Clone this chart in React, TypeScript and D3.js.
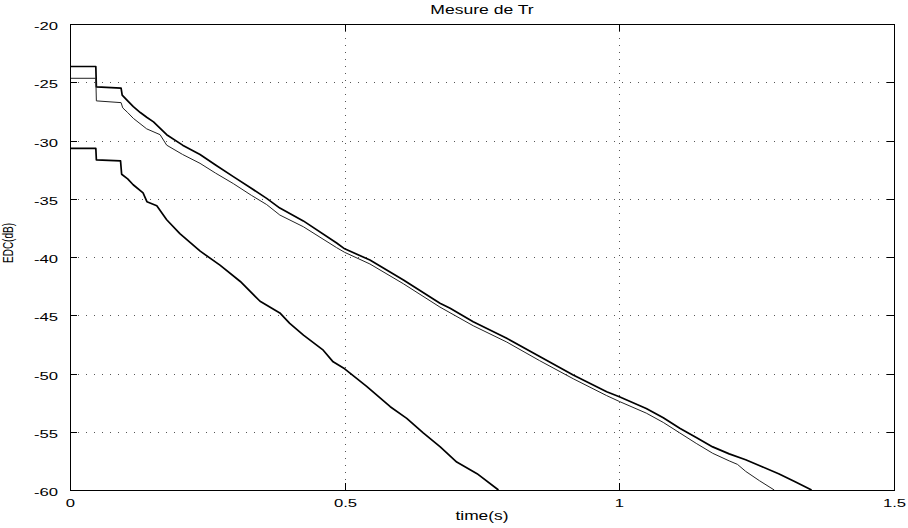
import React from "react";
import { scaleLinear, line, range } from "d3";

const width = 908;
const height = 528;
const margin = { top: 24, right: 14, bottom: 38, left: 70 };

// text in the reference is stretched sideways
const stretch = 1.45;

// Data (time in s, EDC in dB)
const timeA = [0, 0.047, 0.048, 0.093, 0.095, 0.105, 0.1153, 0.128, 0.1396, 0.152, 0.176, 0.205, 0.2367, 0.265, 0.2973, 0.33, 0.358, 0.382, 0.4247, 0.4854, 0.5, 0.546, 0.607, 0.6735, 0.692, 0.734, 0.795, 0.855, 0.916, 0.977, 1.0, 1.049, 1.08, 1.11, 1.14, 1.17, 1.2, 1.23, 1.26, 1.29, 1.32, 1.35];
const edcA = [-23.65, -23.65, -25.4, -25.5, -26.1, -26.6, -27.1, -27.6, -28.0, -28.4, -29.5, -30.4, -31.2, -32.1, -33.1, -34.1, -34.97, -35.8, -36.9, -38.8, -39.3, -40.26, -41.97, -43.97, -44.4, -45.55, -46.98, -48.55, -50.13, -51.56, -52.0, -53.0, -53.8, -54.7, -55.5, -56.3, -56.9, -57.4, -58.0, -58.6, -59.3, -60];

const timeB = [0, 0.047, 0.048, 0.093, 0.096, 0.105, 0.1153, 0.1396, 0.164, 0.176, 0.205, 0.2367, 0.265, 0.2973, 0.33, 0.358, 0.382, 0.4247, 0.4854, 0.5, 0.546, 0.607, 0.6735, 0.734, 0.795, 0.855, 0.916, 0.977, 1.0, 1.049, 1.08, 1.11, 1.14, 1.17, 1.2, 1.215, 1.23, 1.255, 1.282];
const edcB = [-24.66, -24.66, -26.6, -26.75, -27.2, -27.6, -28.1, -29.0, -29.5, -30.4, -31.2, -31.96, -32.8, -33.7, -34.7, -35.5, -36.4, -37.4, -39.2, -39.6, -40.6, -42.3, -44.3, -45.9, -47.3, -48.9, -50.45, -51.9, -52.4, -53.4, -54.2, -55.1, -56.0, -56.85, -57.5, -57.8, -58.4, -59.2, -60];

const timeC = [0, 0.047, 0.048, 0.092, 0.094, 0.105, 0.115, 0.133, 0.14, 0.158, 0.176, 0.2, 0.237, 0.273, 0.31, 0.346, 0.382, 0.4, 0.425, 0.461, 0.479, 0.5, 0.54, 0.583, 0.613, 0.643, 0.674, 0.704, 0.741, 0.78];
const edcC = [-30.67, -30.67, -31.67, -31.75, -32.9, -33.3, -33.8, -34.5, -35.25, -35.6, -36.8, -38.0, -39.5, -40.7, -42.1, -43.8, -44.8, -45.7, -46.7, -48.0, -49.0, -49.6, -51.1, -52.85, -53.85, -55.1, -56.3, -57.6, -58.6, -60];

const xTicks = [0, 0.5, 1, 1.5];
const xTickLabels = ["0", "0.5", "1", "1.5"];
const yTicks = [-20, -25, -30, -35, -40, -45, -50, -55, -60];

const title = "Mesure de Tr";
const xLabel = "time(s)";
const yLabel = "EDC(dB)";

const series = [
  { t: timeA, v: edcA, color: "#000", w: 1.7 },
  { t: timeB, v: edcB, color: "#222", w: 1 },
  { t: timeC, v: edcC, color: "#000", w: 1.7 },
];

const font = "'Liberation Sans', Arial, Helvetica, sans-serif";

const App = () => {
  const innerW = width - margin.left - margin.right;
  const innerH = height - margin.top - margin.bottom;

  const x = scaleLinear().domain([0, 1.5]).range([0, innerW]);
  const y = scaleLinear().domain([-60, -20]).range([innerH, 0]);

  const tickLen = 7;

  return (
    <div style={{ position: "absolute", left: 0, top: 0 }}>
      <svg width={width} height={height} style={{ display: "block", background: "#fff" }}>
        <g transform={`translate(${margin.left},${margin.top})`}>
          {/* grid */}
          {yTicks
            .filter((d) => d !== -20 && d !== -60)
            .map((d) => (
              <line
                key={"gy" + d}
                x1={0}
                x2={innerW}
                y1={Math.round(y(d)) + 0.5}
                y2={Math.round(y(d)) + 0.5}
                stroke="#555"
                strokeDasharray="1,7"
              />
            ))}
          {xTicks
            .filter((d) => d !== 0 && d !== 1.5)
            .map((d) => (
              <line
                key={"gx" + d}
                x1={Math.round(x(d)) + 0.5}
                x2={Math.round(x(d)) + 0.5}
                y1={0}
                y2={innerH}
                stroke="#555"
                strokeDasharray="1,6"
              />
            ))}

          {/* curves */}
          {series.map((s, i) => {
            const gen = line<number>()
              .x((k) => x(s.t[k]))
              .y((k) => y(s.v[k]));
            return (
              <path
                key={"s" + i}
                d={gen(range(s.t.length)) || ""}
                fill="none"
                stroke={s.color}
                strokeWidth={s.w}
                strokeLinejoin="round"
              />
            );
          })}

          {/* box */}
          <rect x={0.5} y={0.5} width={innerW} height={innerH} fill="none" stroke="#000" strokeWidth={1} />

          {/* ticks, inward on all four sides */}
          {yTicks.map((d) => {
            const yy = Math.round(y(d)) + 0.5;
            return (
              <g key={"ty" + d}>
                <line x1={0} x2={tickLen} y1={yy} y2={yy} stroke="#000" />
                <line x1={innerW - tickLen} x2={innerW} y1={yy} y2={yy} stroke="#000" />
                <text
                  transform={`translate(${-12},${yy + 5.5}) scale(${stretch},1)`}
                  textAnchor="end"
                  fontFamily={font}
                  fontSize={11.5}
                  fill="#000"
                >
                  {d}
                </text>
              </g>
            );
          })}
          {xTicks.map((d, i) => {
            const xx = Math.round(x(d)) + 0.5;
            return (
              <g key={"tx" + d}>
                <line x1={xx} x2={xx} y1={innerH} y2={innerH - tickLen} stroke="#000" />
                <line x1={xx} x2={xx} y1={0} y2={tickLen} stroke="#000" />
                <text
                  transform={`translate(${xx},${innerH + 17}) scale(${stretch},1)`}
                  textAnchor="middle"
                  fontFamily={font}
                  fontSize={11.5}
                  fill="#000"
                >
                  {xTickLabels[i]}
                </text>
              </g>
            );
          })}

          {/* labels */}
          <text
            transform={`translate(${-57},${219}) scale(${stretch},1) rotate(-90)`}
            textAnchor="middle"
            fontFamily={font}
            fontSize={10}
            fill="#000"
          >
            {yLabel}
          </text>
          <text
            transform={`translate(${innerW / 2},${innerH + 30}) scale(${stretch},1)`}
            textAnchor="middle"
            fontFamily={font}
            fontSize={12}
            fill="#000"
          >
            {xLabel}
          </text>
          <text
            transform={`translate(${innerW / 2},${-10.5}) scale(${stretch - 0.1},1)`}
            textAnchor="middle"
            fontFamily={font}
            fontSize={13}
            fill="#000"
          >
            {title}
          </text>
        </g>
      </svg>
    </div>
  );
};

export default App;
